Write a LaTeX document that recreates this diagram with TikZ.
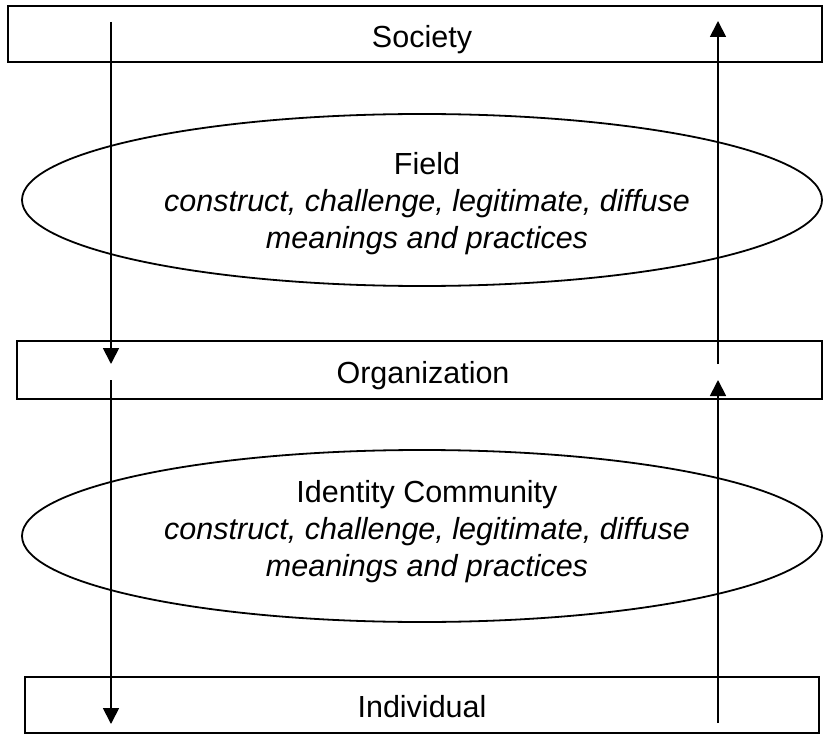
\documentclass[tikz,border=0pt]{standalone}
\usepackage{fontspec}
\setmainfont{Liberation Sans}
\usetikzlibrary{arrows.meta,shapes.geometric}
\begin{document}
\begin{tikzpicture}[x=1pt,y=-1pt,
  level/.style={draw,line width=1.8pt,rectangle,inner sep=0pt},
  scope box/.style={draw,line width=1.8pt,ellipse,inner sep=0pt,
    minimum width=800pt,minimum height=172pt},
  lbl/.style={font=\fontsize{30.5}{37}\selectfont,inner sep=0pt,anchor=base},
  body/.style={font=\fontsize{30.5}{37}\selectfont,inner sep=0pt,align=center},
  flow/.style={line width=1.8pt,-{Triangle[width=16pt,length=16pt]}}]
\useasboundingbox (0,0) rectangle (824,735);
\fill[white] (0,0) rectangle (824,735);

% the three levels
\node[level,minimum width=814pt,minimum height=56pt] (society) at (415,34) {};
\node[level,minimum width=805pt,minimum height=58pt] (organization) at (419.5,370) {};
\node[level,minimum width=794pt,minimum height=56pt] (individual) at (422,705) {};
\node[lbl] (societyText) at (422,48) {Society};
\node[lbl] (organizationText) at (423,383) {Organization};
\node[lbl] (individualText) at (422,717) {Individual};

% the two arenas in between
\node[scope box] (field) at (422,200) {};
\node[scope box] (community) at (422,536) {};
\node[body] (fieldText) at (427,204) {Field\\\itshape construct, challenge, legitimate, diffuse\\\itshape meanings and practices};
\node[body] (communityText) at (427,532) {Identity Community\\\itshape construct, challenge, legitimate, diffuse\\\itshape meanings and practices};

% downward and upward flows
\coordinate (downA) at (111,22);
\coordinate (downB) at (111,364);
\coordinate (downC) at (111,380);
\coordinate (downD) at (111,724);
\coordinate (upA) at (718,723);
\coordinate (upB) at (718,380);
\coordinate (upC) at (718,364);
\coordinate (upD) at (718,21);
\draw[flow] (downA) -- (downB);
\draw[flow] (downC) -- (downD);
\draw[flow] (upA) -- (upB);
\draw[flow] (upC) -- (upD);
\end{tikzpicture}
\end{document}
